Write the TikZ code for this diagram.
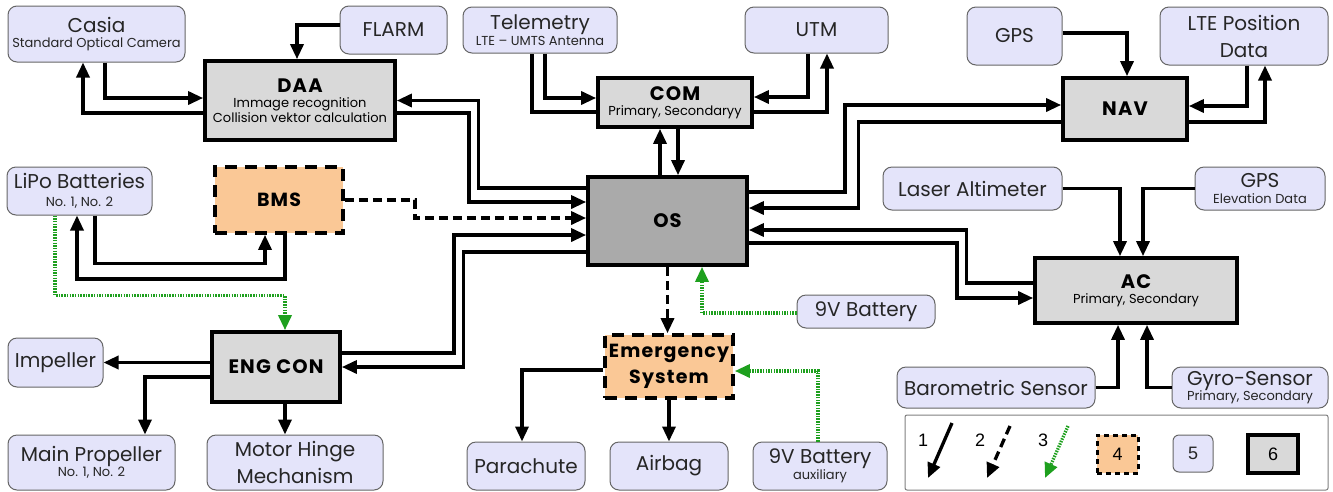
\documentclass[tikz,border=0pt]{standalone}
\usepackage{fontspec}
\setmainfont{Poppins}
\newfontfamily\legfont{Liberation Sans}
\newfontfamily\ttlfont[LetterSpace=6]{Poppins}
\usepackage{tikz}
\usetikzlibrary{arrows.meta}
\definecolor{lav}{RGB}{228,228,250}
\definecolor{unitgray}{RGB}{217,217,217}
\definecolor{osgray}{RGB}{170,170,170}
\definecolor{peach}{RGB}{250,200,150}
\definecolor{pwrgreen}{RGB}{30,160,30}
\newcommand{\subtxt}[1]{{\fontsize{13}{15}\selectfont #1}}
\newcommand{\ttl}[1]{{\ttlfont\bfseries\fontsize{19.5}{22}\selectfont #1}}

\begin{document}
\begin{tikzpicture}[x=1pt, y=-1pt,
  dev/.style={rectangle, draw=black!60, line width=1pt, rounded corners=9pt, fill=lav, align=center, font=\fontsize{20}{26}\selectfont, text=black!85, inner sep=0pt},
  unit/.style={rectangle, draw, line width=3.7pt, fill=unitgray, align=center, font=\fontsize{13}{15}\selectfont, inner sep=0pt},
  safety/.style={rectangle, draw, line width=3.7pt, dash pattern=on 12pt off 8pt, fill=peach, align=center, font=\ttlfont\bfseries\fontsize{19}{26}\selectfont, inner sep=0pt},
  arr/.style={-{Triangle[length=15pt, width=13pt]}, line width=3.3pt, black},
  link/.style={line width=3.3pt, black},
  dsh/.style={arr, dash pattern=on 9pt off 5pt},
  pwr/.style={-{Triangle[length=15pt, width=13pt]}, line width=3.3pt, pwrgreen, dash pattern=on 1.5pt off 1.2pt},
  lgd/.style={font=\legfont\fontsize{18}{20}\selectfont, inner sep=0pt}]
\useasboundingbox[fill=white] (0,0) rectangle (1333,491);

\node[dev, minimum width=177pt, minimum height=56pt] (casia) at (96.5, 34) {Casia\\[-11pt]\subtxt{Standard Optical Camera}};
\node[dev, minimum width=107pt, minimum height=48pt] (flarm) at (393.5, 30) {FLARM};
\node[unit, minimum width=190pt, minimum height=79pt] (daa) at (300, 100.5) {\ttl{DAA}\\Immage recognition\\Collision vektor calculation};
\node[dev, minimum width=154pt, minimum height=46pt] (telem) at (540, 30) {Telemetry\\[-10pt]\subtxt{LTE – UMTS Antenna}};
\node[dev, minimum width=143pt, minimum height=46pt] (utm) at (816.5, 30) {UTM};
\node[unit, minimum width=154pt, minimum height=49pt] (com) at (675, 102.5) {\ttl{COM}\\Primary, Secondaryy};
\node[dev, minimum width=95pt, minimum height=58pt] (gps) at (1014.5, 36) {GPS};
\node[dev, minimum width=168pt, minimum height=58pt] (lte) at (1244, 36) {LTE Position\\[1pt]Data};
\node[unit, minimum width=124pt, minimum height=62pt] (nav) at (1125, 109) {\ttl{NAV}};
\node[dev, minimum width=145pt, minimum height=48pt] (lipo) at (79.5, 191) {LiPo Batteries\\[-8pt]\subtxt{No. 1, No. 2}};
\node[safety, minimum width=128pt, minimum height=66pt] (bms) at (279, 200) {BMS};
\node[unit, fill=osgray, minimum width=159pt, minimum height=88pt] (os) at (667.5, 221) {\ttl{OS}};
\node[dev, minimum width=179pt, minimum height=43pt] (laser) at (972.5, 188.5) {Laser Altimeter};
\node[dev, minimum width=130pt, minimum height=43pt] (gpse) at (1260, 188.5) {GPS\\[-10pt]\subtxt{Elevation Data}};
\node[unit, minimum width=202pt, minimum height=65pt] (ac) at (1136, 290.5) {\ttl{AC}\\Primary, Secondary};
\node[dev, minimum width=138pt, minimum height=33pt] (batt) at (866, 311.5) {9V Battery};
\node[unit, minimum width=128pt, minimum height=70pt] (eng) at (276, 367) {\ttl{ENG CON}};
\node[dev, minimum width=95pt, minimum height=49pt] (imp) at (55.5, 362.5) {Impeller};
\node[dev, minimum width=167pt, minimum height=55pt] (mprop) at (91.5, 462.5) {Main Propeller\\[-11pt]\subtxt{No. 1, No. 2}};
\node[dev, minimum width=176pt, minimum height=55pt] (hinge) at (295, 462.5) {Motor Hinge\\[1pt]Mechanism};
\node[safety, minimum width=128pt, minimum height=63pt] (emerg) at (669, 366.5) {Emergency\\System};
\node[dev, minimum width=118pt, minimum height=48pt] (para) at (526, 466) {Parachute};
\node[dev, minimum width=118pt, minimum height=48pt] (airbag) at (669, 466) {Airbag};
\node[dev, minimum width=134pt, minimum height=48pt] (battaux) at (820, 466) {9V Battery\\[-10pt]\subtxt{auxiliary}};
\node[dev, minimum width=198pt, minimum height=41pt] (baro) at (996, 387.5) {Barometric Sensor};
\node[dev, minimum width=156pt, minimum height=41pt] (gyro) at (1250, 387.5) {Gyro-Sensor\\[-11pt]\subtxt{Primary, Secondary}};

\draw[arr] ([yshift=5pt]flarm.west) -| ([xshift=-3pt]daa.north);
\draw[arr] ([xshift=8.5pt]casia.south) |- ([yshift=2.5pt]daa.west);
\draw[arr] ([yshift=-12.5pt]daa.west) -| ([xshift=-13.5pt]casia.south);
\draw[arr] ([xshift=5pt]telem.south) |- ([yshift=4.5pt]com.west);
\draw[link] ([yshift=-9.5pt]com.west) -| ([xshift=-8pt]telem.south);
\draw[arr] ([xshift=-8.5pt]utm.south) |- ([yshift=5.5pt]com.east);
\draw[arr] ([yshift=-9.5pt]com.east) -| ([xshift=10.5pt]utm.south);
\draw[arr] ([xshift=-7.5pt]os.north) -- ([xshift=-15pt]com.south);
\draw[arr] ([xshift=3pt]com.south) -- ([xshift=10.5pt]os.north);
\draw[arr] ([yshift=3pt]gps.east) -| ([xshift=2pt]nav.north);
\draw[arr] ([xshift=3pt]lte.south) |- ([yshift=3pt]nav.east);
\draw[arr] ([yshift=-13pt]nav.east) -| ([xshift=21pt]lte.south);
\draw[arr] ([yshift=29pt]os.east) -- ++(96,0) |- ([yshift=4pt]nav.west);
\draw[arr] ([yshift=-13pt]nav.west) -- ++(-203,0) |- ([yshift=13pt]os.east);
\draw[arr] ([yshift=7.5pt]ac.west) -- ++(-67,0) |- ([yshift=-9pt]os.east);
\draw[arr] ([yshift=-22pt]os.east) -- ++(208,0) |- ([yshift=-7.5pt]ac.west);
\draw[arr] (laser.east) -| ([xshift=-16pt]ac.north);
\draw[arr] (gpse.west) -| ([xshift=7pt]ac.north);
\draw[arr] (baro.east) -| ([xshift=-18pt]ac.south);
\draw[arr] (gyro.west) -| ([xshift=11pt]ac.south);
\draw[arr] ([yshift=33pt]os.west) -- ++(-108,0) |- (daa.east);
\draw[arr] ([yshift=-12.5pt]daa.east) -- ++(72,0) |- ([yshift=19pt]os.west);
\draw[dsh] (bms.east) -- ++(70,0) |- ([yshift=3pt]os.west);
\draw[arr] ([yshift=14pt]eng.east) -- ++(112,0) |- ([yshift=-14pt]os.west);
\draw[arr] ([yshift=-31pt]os.west) -- ++(-123,0) |- (eng.east);
\draw[arr] ([xshift=15.5pt]lipo.south) -- ++(0,48) -| ([xshift=-14pt]bms.south);
\draw[arr] ([xshift=6pt]bms.south) -- ++(0,44) -| ([xshift=-2.5pt]lipo.south);
\draw[pwr] ([xshift=-24.5pt]lipo.south) -- ++(0,80) -| ([xshift=9pt]eng.north);
\draw[dsh] (os.south) -- (os.south |- emerg.north);
\draw[pwr] ([yshift=-1.5pt]batt.west) -| ([xshift=34.5pt]os.south);
\draw[arr] ([yshift=-3.5pt]emerg.west) -| ([xshift=-4pt]para.north);
\draw[arr] (emerg.south) -- (airbag.north);
\draw[pwr] ([xshift=-2pt]battaux.north) |- ([yshift=-4.5pt]emerg.east);
\draw[arr] ([yshift=4.5pt]eng.west) -- (imp.east);
\draw[arr] ([yshift=-10pt]eng.west) -| ([xshift=53.5pt]mprop.north);
\draw[arr] ([xshift=9pt]eng.south) -- ([xshift=-10pt]hinge.north);

\node[draw=black!50, line width=1pt, fill=white, rounded corners=2pt, minimum width=423pt, minimum height=75pt] (legend) at (1116.5, 452.5) {};
\node[lgd] (n1) at (923, 440) {1};
\node[lgd] (n2) at (980, 440) {2};
\node[lgd] (n3) at (1043, 440) {3};
\coordinate (l1a) at (952, 423);
\coordinate (l1b) at (928, 478);
\coordinate (l2a) at (1010, 426);
\coordinate (l2b) at (987, 478);
\coordinate (l3a) at (1068, 426);
\coordinate (l3b) at (1045, 478);
\draw[arr] (l1a) -- (l1b);
\draw[dsh] (l2a) -- (l2b);
\draw[pwr] (l3a) -- (l3b);
\node[safety, line width=3pt, dash pattern=on 5pt off 4pt, minimum width=41pt, minimum height=38pt, lgd] (k4) at (1117.5, 454) {4};
\node[dev, rounded corners=6pt, minimum width=40pt, minimum height=37pt, lgd] (k5) at (1193, 453.5) {5};
\node[unit, minimum width=50pt, minimum height=38pt, lgd] (k6) at (1273, 454) {6};
\end{tikzpicture}
\end{document}
